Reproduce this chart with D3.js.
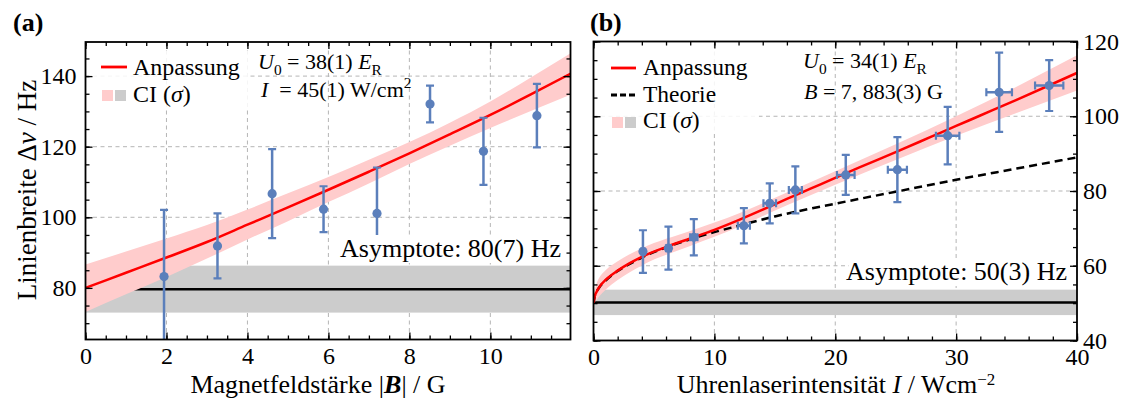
<!DOCTYPE html>
<html><head><meta charset="utf-8">
<script src="https://cdn.jsdelivr.net/npm/d3@7"></script>
<style>
body{margin:0;background:#fff}
svg text{font-family:"Liberation Serif","Times New Roman",serif;white-space:pre}
</style>
</head><body>
<svg id="c" width="1122" height="399"></svg>
<script>
// ---------------- DATA ----------------
// Panel (a): linewidth vs magnetic field
const aX   = [1.94, 3.26, 4.61, 5.88, 7.20, 8.51, 9.83, 11.15];
const aY   = [83.2, 91.9, 106.7, 102.3, 101.1, 132.1, 118.7, 128.8];
const aErr = [18.9, 9.2, 12.6, 6.5, 13.0, 5.2, 9.5, 9.0];
const aFitX  = [0, 1, 2, 3, 4, 5, 6, 7, 8, 9, 10, 11, 12];
const aFitY  = [80.0, 84.3, 88.6, 93.0, 97.9, 102.8, 107.8, 112.9, 118.1, 123.5, 129.0, 134.8, 140.8];
const aBandLo = [73.2, 78.2, 83.1, 88.3, 93.7, 98.9, 104.3, 109.6, 115.1, 120.3, 125.3, 130.1, 134.8];
const aBandHi = [86.6, 90.3, 94.0, 97.8, 102.2, 106.8, 111.4, 116.3, 121.3, 126.8, 132.8, 139.6, 146.6];
const aAsym = [79.6, 73.0, 86.3];           // value, lower, upper
const aXTicks = [0, 2, 4, 6, 8, 10];
const aYTicks = [80, 100, 120, 140];

// Panel (b): linewidth vs clock laser intensity
const bX    = [4.09, 6.2, 8.3, 12.44, 14.58, 16.7, 20.87, 25.14, 29.3, 33.56, 37.7];
const bY    = [63.8, 64.7, 67.6, 70.7, 76.7, 80.3, 84.3, 85.7, 94.8, 106.4, 108.2];
const bYErr = [5.7, 5.75, 4.85, 4.7, 5.35, 6.3, 5.35, 8.7, 7.7, 10.6, 6.8];
const bXErr = [0.15, 0.2, 0.3, 0.5, 0.52, 0.54, 0.73, 0.79, 0.97, 1.06, 1.17];
const bFitX = [0, 0.1, 0.25, 0.5, 1, 2, 3, 4, 6, 8, 10, 12, 14, 16, 18, 20, 22, 25, 28, 30, 32, 35, 38, 40];
const bFitY = [50, 51.8, 53.0, 54.4, 56.2, 58.7, 60.7, 62.4, 65.0, 67.3, 69.6, 72.2, 75.0, 77.9, 80.7, 83.5, 86.3, 90.4, 94.6, 97.4, 100.2, 104.4, 108.7, 111.6];
const bBandX  = [0, 0.1, 0.25, 0.5, 1, 2, 4, 8, 12, 16, 20, 25, 30, 35, 40];
const bBandLo = [49.5, 50.3, 50.8, 51.9, 53.6, 56.2, 60.1, 65.3, 70.4, 76.2, 81.7, 88.3, 94.8, 100.9, 106.9];
const bBandHi = [50.5, 53.3, 55.2, 56.9, 58.8, 61.2, 64.7, 69.3, 74.0, 79.6, 85.3, 92.5, 100.0, 107.9, 116.3];
const bTheoX = [0, 0.1, 0.25, 0.5, 1, 2, 3, 4, 6, 8, 10, 12, 15, 20, 25, 30, 35, 40];
const bTheoY = [50, 51.8, 53.0, 54.3, 56.0, 58.6, 60.5, 62.2, 64.9, 67.1, 69.0, 70.7, 73.2, 76.6, 79.8, 83.0, 86.0, 89.0];
const bAsym = [50.2, 46.8, 53.6];
const bXTicks = [0, 10, 20, 30, 40];
const bYTicks = [40, 60, 80, 100, 120];

// ---------------- STYLE ----------------
const RED = "#ff0000", PINK = "#ffcccc", GRAY = "#cccccc", BLUE = "#5b7fbb", GRID = "#b5b5b5";
const FS = 24, TICKFS = 24, LABFS = 26, ASYFS = 26;
const svg = d3.select("#c");

function rich(g, x, y, parts, opts = {}) {
  const size = opts.size || FS;
  const t = g.append("text").attr("x", x).attr("y", y).attr("font-size", size)
    .attr("text-anchor", opts.anchor || "start").attr("fill", "#000");
  if (opts.transform) t.attr("transform", opts.transform);
  if (opts.weight) t.attr("font-weight", opts.weight);
  let cur = 0;
  parts.forEach(p => {
    if (typeof p === "string") p = {t: p};
    const s = t.append("tspan").text(p.t);
    let target = 0, fs = size;
    if (p.sub) { target = size * 0.28; fs = size * 0.7; }
    if (p.sup) { target = -size * (opts.supK || 0.42); fs = size * (opts.supS || 0.7); }
    if (target !== cur) { s.attr("dy", target - cur); cur = target; }
    s.attr("font-size", fs);
    if (p.i) s.attr("font-style", "italic");
    if (p.b) s.attr("font-weight", "bold");
  });
  return t;
}

function panel(o) {
  const g = svg.append("g");
  const x = o.x, y = o.y;
  const [x0, x1] = x.range(), [y0, y1] = y.range(); // y0 bottom, y1 top
  const clipId = "clip" + o.id;
  svg.append("clipPath").attr("id", clipId).append("rect")
    .attr("x", x0).attr("y", y1).attr("width", x1 - x0).attr("height", y0 - y1);
  const plot = g.append("g").attr("clip-path", `url(#${clipId})`);

  // grid
  plot.selectAll(".gx").data(o.xTicks).join("line")
    .attr("x1", d => x(d)).attr("x2", d => x(d)).attr("y1", y0).attr("y2", y1)
    .attr("stroke", GRID).attr("stroke-width", 1).attr("stroke-dasharray", "4,3.5");
  plot.selectAll(".gy").data(o.yTicks).join("line")
    .attr("y1", d => y(d)).attr("y2", d => y(d)).attr("x1", x0).attr("x2", x1)
    .attr("stroke", GRID).attr("stroke-width", 1).attr("stroke-dasharray", "4,3.5");

  // asymptote band + line
  const [av, alo, ahi] = o.asym;
  plot.append("rect").attr("x", x0).attr("width", x1 - x0)
    .attr("y", y(ahi)).attr("height", y(alo) - y(ahi)).attr("fill", GRAY);
  plot.append("line").attr("x1", x0).attr("x2", x1).attr("y1", y(av)).attr("y2", y(av))
    .attr("stroke", "#000").attr("stroke-width", 2.5);

  // fit band
  const bandData = o.bandX.map((d, i) => ({x: d, lo: o.bandLo[i], hi: o.bandHi[i]}));
  plot.append("path").datum(bandData)
    .attr("d", d3.area().x(d => x(d.x)).y0(d => y(d.lo)).y1(d => y(d.hi)).curve(d3.curveMonotoneX))
    .attr("fill", PINK);

  // theory
  if (o.theoX) {
    plot.append("path").datum(o.theoX.map((d, i) => [d, o.theoY[i]]))
      .attr("d", d3.line().x(d => x(d[0])).y(d => y(d[1])).curve(d3.curveMonotoneX))
      .attr("fill", "none").attr("stroke", "#000").attr("stroke-width", 2.5).attr("stroke-dasharray", "8,5");
  }
  // fit line
  plot.append("path").datum(o.fitX.map((d, i) => [d, o.fitY[i]]))
    .attr("d", d3.line().x(d => x(d[0])).y(d => y(d[1])).curve(d3.curveMonotoneX))
    .attr("fill", "none").attr("stroke", RED).attr("stroke-width", 2.5);

  // error bars & points
  const pts = o.px.map((d, i) => ({x: d, y: o.py[i], ey: o.pey[i], ex: o.pex ? o.pex[i] : 0}));
  const eg = plot.append("g").attr("stroke", BLUE).attr("fill", BLUE);
  pts.forEach(p => {
    const cx = x(p.x), cy = y(p.y), ty = y(p.y + p.ey), by = y(p.y - p.ey);
    eg.append("line").attr("x1", cx).attr("x2", cx).attr("y1", ty).attr("y2", by).attr("stroke-width", 2.5);
    eg.append("line").attr("x1", cx - 4).attr("x2", cx + 4).attr("y1", ty).attr("y2", ty).attr("stroke-width", 2.2);
    eg.append("line").attr("x1", cx - 4).attr("x2", cx + 4).attr("y1", by).attr("y2", by).attr("stroke-width", 2.2);
    if (p.ex > 0) {
      const lx = x(p.x - p.ex), rx = x(p.x + p.ex);
      eg.append("line").attr("x1", lx).attr("x2", rx).attr("y1", cy).attr("y2", cy).attr("stroke-width", 2.5);
      eg.append("line").attr("x1", lx).attr("x2", lx).attr("y1", cy - 4).attr("y2", cy + 4).attr("stroke-width", 2.2);
      eg.append("line").attr("x1", rx).attr("x2", rx).attr("y1", cy - 4).attr("y2", cy + 4).attr("stroke-width", 2.2);
    }
    eg.append("circle").attr("cx", cx).attr("cy", cy).attr("r", 4.6).attr("stroke", "none");
  });

  // asymptote label with white box
  const lb = o.asymLabel;
  g.append("rect").attr("x", lb.bx).attr("y", lb.by).attr("width", lb.bw).attr("height", lb.bh).attr("fill", "#fff");
  rich(g, lb.x, lb.y, lb.parts, {anchor: "end", size: ASYFS});

  // frame & axes
  const fr = g.append("g");
  function styleAxis(sel) {
    sel.attr("font-family", null).attr("font-size", null);
    sel.select(".domain").remove();
    sel.selectAll(".tick line").attr("stroke", "#000").attr("stroke-width", 1.3);
    sel.selectAll("text").attr("font-size", TICKFS).attr("fill", "#000");
  }
  const minorX = d3.range(x.domain()[0], x.domain()[1] + 1e-9, o.xMinor);
  const minorY = d3.range(Math.ceil(y.domain()[0] / o.yMinor) * o.yMinor, y.domain()[1] + 1e-9, o.yMinor);
  // bottom
  fr.append("g").attr("transform", `translate(0,${y0})`)
    .call(d3.axisBottom(x).tickValues(minorX).tickSize(-4).tickFormat("")).call(styleAxis);
  fr.append("g").attr("transform", `translate(0,${y0})`)
    .call(d3.axisBottom(x).tickValues(o.xTicks).tickSizeInner(-7).tickSizeOuter(0).tickPadding(7)).call(styleAxis);
  // top
  fr.append("g").attr("transform", `translate(0,${y1})`)
    .call(d3.axisTop(x).tickValues(minorX).tickSize(-4).tickFormat("")).call(styleAxis);
  fr.append("g").attr("transform", `translate(0,${y1})`)
    .call(d3.axisTop(x).tickValues(o.xTicks).tickSize(-7).tickFormat("")).call(styleAxis);
  // left
  fr.append("g").attr("transform", `translate(${x0},0)`)
    .call(d3.axisLeft(y).tickValues(minorY).tickSize(-4).tickFormat("")).call(styleAxis);
  fr.append("g").attr("transform", `translate(${x0},0)`)
    .call(d3.axisLeft(y).tickValues(o.yTicks).tickSizeInner(-7).tickSizeOuter(0).tickPadding(9)
      .tickFormat(o.yRight ? "" : d => d)).call(styleAxis);
  // right
  fr.append("g").attr("transform", `translate(${x1},0)`)
    .call(d3.axisRight(y).tickValues(minorY).tickSize(-4).tickFormat("")).call(styleAxis);
  fr.append("g").attr("transform", `translate(${x1},0)`)
    .call(d3.axisRight(y).tickValues(o.yTicks).tickSizeInner(-7).tickSizeOuter(0).tickPadding(6)
      .tickFormat(o.yRight ? d => d : "")).call(styleAxis);
  fr.append("rect").attr("x", x0).attr("y", y1).attr("width", x1 - x0).attr("height", y0 - y1)
    .attr("fill", "none").attr("stroke", "#000").attr("stroke-width", 1.8);
  return g;
}

// ---------------- PANEL (a) ----------------
const xA = d3.scaleLinear([0, 11.98], [85.5, 570.5]);
const yA = d3.scaleLinear([65.38, 149.66], [339.5, 42]);
const gA = panel({
  id: "A", x: xA, y: yA, xTicks: aXTicks, yTicks: aYTicks, xMinor: 0.5, yMinor: 5,
  asym: aAsym, bandX: aFitX, bandLo: aBandLo, bandHi: aBandHi, fitX: aFitX, fitY: aFitY,
  px: aX, py: aY, pey: aErr,
  asymLabel: {x: 561, y: 257, bx: 343, by: 235, bw: 223, bh: 28,
    parts: ["Asymptote: 80(7) Hz"]}
});
// legend (a)
gA.append("rect").attr("x", 93).attr("y", 51).attr("width", 155).attr("height", 57).attr("fill", "#fff").attr("opacity", 0.85);
gA.append("line").attr("x1", 101).attr("x2", 127).attr("y1", 67).attr("y2", 67).attr("stroke", RED).attr("stroke-width", 2.8);
rich(gA, 133, 75, ["Anpassung"]);
gA.append("rect").attr("x", 102).attr("y", 90).attr("width", 11).attr("height", 11).attr("fill", PINK);
gA.append("rect").attr("x", 115).attr("y", 90).attr("width", 11).attr("height", 11).attr("fill", GRAY);
rich(gA, 133, 102, ["CI (", {t: "σ", i: true}, ")"]);
// annotations (a)
rich(gA, 258, 69, [{t: "U", i: true}, {t: "0", sub: true}, {t: " = 38(1) "}, {t: "E", i: true}, {t: "R", sub: true}], {size: 22});
rich(gA, 261, 97, [{t: "I", i: true}, {t: "  = 45(1) W/cm"}, {t: "2", sup: true}], {size: 22});
rich(gA, 13, 31, ["(a)"], {weight: "bold", size: 26});
rich(gA, 318, 393, ["Magnetfeldstärke |", {t: "B", i: true, b: true}, "| / G"], {anchor: "middle", size: LABFS});
rich(gA, 0, 0, ["Linienbreite Δ", {t: "ν", i: true}, " / Hz"], {anchor: "middle", size: 27, transform: "translate(36,190) rotate(-90)"});

// ---------------- PANEL (b) ----------------
const xB = d3.scaleLinear([0, 40], [593.5, 1077]);
const yB = d3.scaleLinear([40, 120], [340.5, 41.5]);
const gB = panel({
  id: "B", x: xB, y: yB, xTicks: bXTicks, yTicks: bYTicks, xMinor: 2, yMinor: 5, yRight: true,
  asym: bAsym, bandX: bBandX, bandLo: bBandLo, bandHi: bBandHi, fitX: bFitX, fitY: bFitY,
  theoX: bTheoX, theoY: bTheoY,
  px: bX, py: bY, pey: bYErr, pex: bXErr,
  asymLabel: {x: 1067, y: 280, bx: 849, by: 258, bw: 223, bh: 28,
    parts: ["Asymptote: 50(3) Hz"]}
});
gB.append("rect").attr("x", 601).attr("y", 51).attr("width", 158).attr("height", 82).attr("fill", "#fff").attr("opacity", 0.85);
gB.append("line").attr("x1", 611).attr("x2", 636).attr("y1", 68).attr("y2", 68).attr("stroke", RED).attr("stroke-width", 2.8);
rich(gB, 643, 75, ["Anpassung"], {size: 23.5});
gB.append("line").attr("x1", 611).attr("x2", 636).attr("y1", 95).attr("y2", 95).attr("stroke", "#000").attr("stroke-width", 2.8).attr("stroke-dasharray", "6,3");
rich(gB, 643, 101.5, ["Theorie"], {size: 23.5});
gB.append("rect").attr("x", 612).attr("y", 117).attr("width", 11).attr("height", 11).attr("fill", PINK);
gB.append("rect").attr("x", 625).attr("y", 117).attr("width", 11).attr("height", 11).attr("fill", GRAY);
rich(gB, 643, 128, ["CI (", {t: "σ", i: true}, ")"], {size: 23.5});
rich(gB, 803, 68, [{t: "U", i: true}, {t: "0", sub: true}, {t: " = 34(1) "}, {t: "E", i: true}, {t: "R", sub: true}], {size: 22});
rich(gB, 804, 99, [{t: "B", i: true}, {t: " = 7, 883(3) G"}], {size: 22});
rich(gB, 590, 31, ["(b)"], {weight: "bold", size: 26});
rich(gB, 836, 393, ["Uhrenlaserintensität ", {t: "I", i: true}, " / Wcm", {t: "−2", sup: true}],
  {anchor: "middle", size: LABFS, supK: 0.3, supS: 0.65});
</script>
</body></html>
